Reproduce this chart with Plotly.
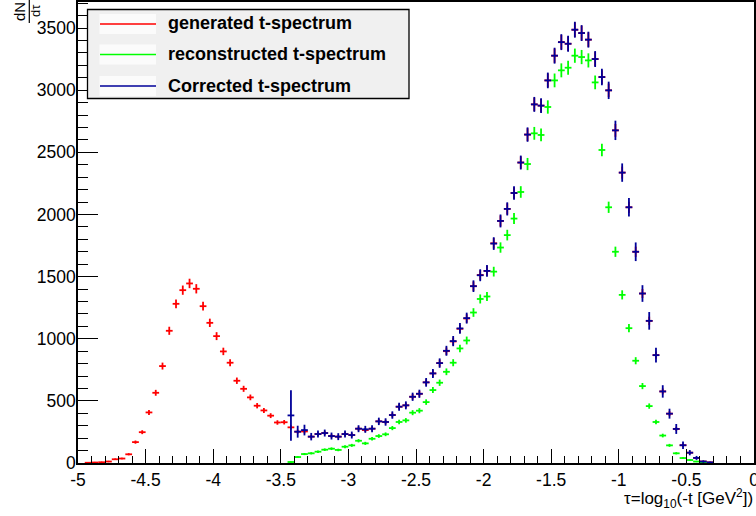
import numpy as np
import plotly.graph_objects as go

# ---------------- data ----------------
tau = [-4.975, -4.925, -4.875, -4.825, -4.775, -4.725, -4.675, -4.625, -4.575, -4.525,
       -4.475, -4.425, -4.375, -4.325, -4.275, -4.225, -4.175, -4.125, -4.075, -4.025,
       -3.975, -3.925, -3.875, -3.825, -3.775, -3.725, -3.675, -3.625, -3.575, -3.525,
       -3.475, -3.425, -3.375, -3.325, -3.275, -3.225, -3.175, -3.125, -3.075, -3.025,
       -2.975, -2.925, -2.875, -2.825, -2.775, -2.725, -2.675, -2.625, -2.575, -2.525,
       -2.475, -2.425, -2.375, -2.325, -2.275, -2.225, -2.175, -2.125, -2.075, -2.025,
       -1.975, -1.925, -1.875, -1.825, -1.775, -1.725, -1.675, -1.625, -1.575, -1.525,
       -1.475, -1.425, -1.375, -1.325, -1.275, -1.225, -1.175, -1.125, -1.075, -1.025,
       -0.975, -0.925, -0.875, -0.825, -0.775, -0.725, -0.675, -0.625, -0.575, -0.525,
       -0.475, -0.425, -0.375, -0.325]
bin_half_width = 0.025

generated = [None, 2, 4, 6, 12, 30, 36, 70, 168, 248,
             407, 565, 780, 1064, 1281, 1391, 1445, 1402, 1262, 1128,
             1021, 898, 807, 662, 597, 528, 461, 423, 381, 326,
             328, 287, 252, 254, 212, 233, 241, 217, 212, 233,
             225, 276, 265, 276, 335, 330, 386, 453, 464, 533,
             557, 649, 721, 804, 900, 978, 1080, 1163, 1423, 1513,
             1546, 1768, 1948, 2045, 2173, 2418, 2643, 2886, 2876, 3079,
             3278, 3387, 3374, 3487, 3460, 3407, 3251, 3106, 2999, 2677,
             2337, 2058, 1700, 1364, 1144, 868, 576, 397, 274, 143,
             83, 41, 12, 5]

reconstructed = [None, None, None, None, None, None, None, None, None, None,
                 None, None, None, None, None, None, None, None, None, None,
                 None, None, None, None, None, None, None, None, None, None,
                 None, 8, 48, 72, 78, 91, 107, 115, 105, 131,
                 142, 179, 158, 195, 217, 231, 281, 330, 343, 405,
                 421, 490, 587, 646, 734, 807, 922, 986, 1211, 1320,
                 1340, 1540, 1734, 1834, 1967, 2181, 2406, 2653, 2640, 2865,
                 3079, 3160, 3181, 3278, 3267, 3240, 3063, 2519, 2058, 1700,
                 1353, 1085, 823, 619, 458, 330, 221, 142, 78, 40,
                 24, 12, 4, None]

corrected = [None, None, None, None, None, None, None, None, None, None,
             None, None, None, None, None, None, None, None, None, None,
             None, None, None, None, None, None, None, None, None, None,
             None, 383, 252, 265, 212, 233, 241, 217, 212, 233,
             225, 276, 271, 276, 335, 330, 386, 453, 464, 533,
             557, 649, 721, 804, 903, 981, 1083, 1166, 1423, 1511,
             1546, 1766, 1948, 2045, 2173, 2418, 2643, 2886, 2876, 3079,
             3278, 3387, 3374, 3487, 3460, 3407, 3251, 3106, 2999, 2677,
             2337, 2058, 1700, 1364, 1144, 868, 576, 397, 274, 143,
             83, 41, 12, 5]

corrected_err = [None, None, None, None, None, None, None, None, None, None,
                 None, None, None, None, None, None, None, None, None, None,
                 None, None, None, None, None, None, None, None, None, None,
                 None, 203, 48, 43, 30, 28, 28, 28, 28, 28,
                 28, 28, 28, 28, 30, 30, 30, 32, 32, 33,
                 33, 35, 36, 38, 40, 41, 43, 44, 47, 48,
                 48, 51, 52, 53, 54, 56, 58, 60, 60, 63,
                 64, 64, 64, 64, 64, 64, 64, 66, 70, 78,
                 74, 74, 75, 67, 71, 60, 50, 40, 40, 31,
                 21, 16, 9, 6]

x_tickvals = [-5, -4.5, -4, -3.5, -3, -2.5, -2, -1.5, -1, -0.5, 0]
x_ticktext = ["-5", "-4.5", "-4", "-3.5", "-3", "-2.5", "-2", "-1.5", "-1", "-0.5", "0"]
y_tickvals = [0, 500, 1000, 1500, 2000, 2500, 3000, 3500]
y_ticktext = ["0", "500", "1000", "1500", "2000", "2500", "3000", "3500"]

legend_labels = ["generated t-spectrum", "reconstructed t-spectrum", "Corrected t-spectrum"]
colors = ["#ff0000", "#00ff00", "#000099"]


def poisson(vals):
    return [None if v is None else float(np.sqrt(v)) for v in vals]


# ---------------- figure ----------------
W, H = 756, 516
L, R, T, B = 78, 2, 2, 53
PW, PH = W - L - R, H - T - B
FONT = "Liberation Sans, Arial, Helvetica, sans-serif"


def px(xp):
    return (xp - L) / PW


def py(yp):
    return (H - B - yp) / PH


fig = go.Figure()
series = [(generated, poisson(generated)),
          (reconstructed, poisson(reconstructed)),
          (corrected, corrected_err)]
for (vals, errs), col, name in zip(series, colors, legend_labels):
    fig.add_trace(go.Scatter(
        x=tau, y=vals, mode="markers", name=name, showlegend=False,
        marker=dict(size=1.5, color=col),
        error_x=dict(type="constant", value=bin_half_width, color=col, thickness=1.8, width=0),
        error_y=dict(type="data", array=errs, symmetric=True, color=col, thickness=1.8, width=0),
        cliponaxis=True, hoverinfo="x+y",
    ))

fig.update_layout(
    width=W, height=H,
    margin=dict(l=L, r=R, t=T, b=B, pad=0, autoexpand=False),
    paper_bgcolor="white", plot_bgcolor="white",
    font=dict(family=FONT, size=17.5, color="black"),
    showlegend=False,
)
fig.update_xaxes(
    range=[-5, 0], tickvals=x_tickvals, ticktext=x_ticktext,
    ticks="inside", ticklen=14, tickwidth=1, tickcolor="black",
    minor=dict(dtick=0.1, ticks="inside", ticklen=7, tickwidth=1, tickcolor="black"),
    showline=True, linecolor="black", linewidth=1.5, mirror=True,
    showgrid=False, zeroline=False, automargin=False, ticklabeloverflow="allow",
    tickfont=dict(family=FONT, size=17.5, color="black"),
)
fig.update_yaxes(
    range=[0, 3710], tickvals=y_tickvals, ticktext=y_ticktext,
    ticks="inside", ticklen=20, tickwidth=1, tickcolor="black",
    minor=dict(dtick=100, ticks="inside", ticklen=10, tickwidth=1, tickcolor="black"),
    showline=True, linecolor="black", linewidth=1.5, mirror=True,
    showgrid=False, zeroline=False, automargin=False, ticklabelstandoff=-3,
    ticklabeloverflow="allow",
    tickfont=dict(family=FONT, size=17.5, color="black"),
)

shapes = []
annotations = []
# legend box
shapes.append(dict(type="rect", xref="paper", yref="paper",
                   x0=px(87.5), x1=px(409), y0=py(98.5), y1=py(9.5),
                   fillcolor="#f0f0f0", line=dict(color="black", width=1.3), layer="above"))
rows_y = [24, 54.5, 86]
for yc, col, lab in zip(rows_y, colors, legend_labels):
    shapes.append(dict(type="rect", xref="paper", yref="paper",
                       x0=px(99.5), x1=px(156), y0=py(yc + 10), y1=py(yc - 10),
                       fillcolor="#fbfbfb", line=dict(width=0), layer="above"))
    shapes.append(dict(type="line", xref="paper", yref="paper",
                       x0=px(100), x1=px(156), y0=py(yc), y1=py(yc),
                       line=dict(color=col, width=1.5), layer="above"))
    annotations.append(dict(xref="paper", yref="paper", x=px(166), y=py(yc - 0.5),
                            xanchor="left", yanchor="middle", showarrow=False,
                            text="<b>%s</b>" % lab,
                            font=dict(family=FONT, size=18, color="black")))

# x-axis title
annotations.append(dict(xref="paper", yref="paper", x=px(755), y=py(498),
                        xanchor="right", yanchor="middle", showarrow=False,
                        text="\u03c4=log<sub>10</sub>(-t [GeV<sup>2</sup>])",
                        font=dict(family=FONT, size=17, color="black")))
# y-axis title (rotated fraction dN/dτ)
annotations.append(dict(xref="paper", yref="paper", x=px(19.5), y=py(11.5),
                        xanchor="center", yanchor="middle", showarrow=False, textangle=-90,
                        text="dN", font=dict(family=FONT, size=15, color="black")))
annotations.append(dict(xref="paper", yref="paper", x=px(35), y=py(10),
                        xanchor="center", yanchor="middle", showarrow=False, textangle=-90,
                        text="d\u03c4", font=dict(family=FONT, size=13, color="black")))
shapes.append(dict(type="line", xref="paper", yref="paper",
                   x0=px(29.3), x1=px(29.3), y0=py(23), y1=py(0),
                   line=dict(color="black", width=1.2)))

fig.update_layout(shapes=shapes, annotations=annotations)
fig.write_html("out.html", config={"displayModeBar": False},
               post_script="document.body.style.margin='0px';document.body.style.padding='0px';")
